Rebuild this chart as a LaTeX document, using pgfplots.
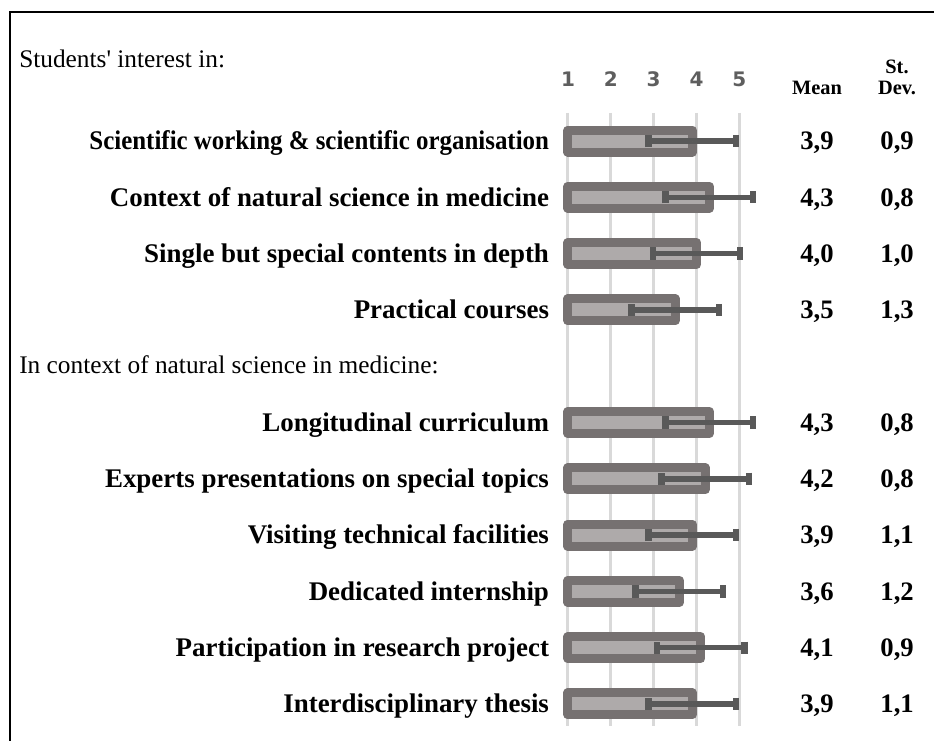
\documentclass[border=0pt]{standalone}
\usepackage{graphicx}
\usepackage{pgfplots}
\pgfplotsset{compat=1.18}
\usepackage{pgfplotstable}
\usepackage{fontspec}
\setmainfont{Liberation Serif}
\newfontfamily\tickfont{DejaVu Sans}
\definecolor{barout}{HTML}{767171}
\definecolor{barin}{HTML}{AEAAAA}
\definecolor{errc}{HTML}{595959}
\definecolor{gridc}{HTML}{D9D9D9}
\definecolor{tickc}{HTML}{5E5E5E}

\pgfplotstableread{
row mean sd
0 3.9 0.9
1 4.3 0.8
2 4.0 1.0
3 3.5 1.3
5 4.3 0.8
6 4.2 0.8
7 3.9 1.1
8 3.6 1.2
9 4.1 0.9
10 3.9 1.1
}\data

\begin{document}
\begin{tikzpicture}
\def\u{0.75pt}
\path[use as bounding box] (0,0) rectangle (934*\u,-740*\u);
\begin{axis}[
  at={(555.1*\u,-112.85*\u)}, anchor=north west,
  scale only axis, width=154.3pt, height=460.2pt,
  xmin=-0.3, xmax=4.5, ymin=-0.5, ymax=10.4, y dir=reverse,
  clip=false,
  axis line style={draw=none}, major tick length=0pt,
  xtick={0,1,2,3,4}, xticklabels={1,2,3,4,5}, xticklabel pos=upper,
  xticklabel style={font=\tickfont\bfseries\fontsize{15}{18}\selectfont, text=tickc, anchor=base, inner sep=0pt, yshift=19.5pt},
  xmajorgrids, grid style={draw=gridc, line width=2.2pt},
  ytick={0,1,2,3,5,6,7,8,9,10},
  yticklabels={\scalebox{0.925}[1]{Scientific working \& scientific organisation},
    Context of natural science in medicine,
    Single but special contents in depth,
    Practical courses,
    Longitudinal curriculum,
    Experts presentations on special topics,
    Visiting technical facilities,
    Dedicated internship,
    Participation in research project,
    Interdisciplinary thesis},
  yticklabel style={font=\bfseries\fontsize{20.2}{24}\selectfont, anchor=base east, inner sep=0pt, xshift=-4.4pt, yshift=-6.6pt},
]
\addplot[xbar, bar width=16.5pt, bar shift=0pt, fill=barin, draw=barout, line width=6.75pt, line join=round,
  error bars/.cd, x dir=both, x fixed=1.02, error mark=|,
  error bar style={line width=4.2pt, draw=errc},
  error mark options={line width=4.8pt, mark size=4.6pt, draw=errc}]
  table[x expr=\thisrow{mean}-1, y=row] {\data};

\addplot[draw=none, mark=none, point meta={\thisrow{mean}},
  nodes near coords={\pgfmathprintnumber[fixed,fixed zerofill,precision=1,use comma,assume math mode=true]{\pgfplotspointmeta}},
  nodes near coords style={anchor=base, inner sep=0pt, yshift=-6.6pt, font=\bfseries\fontsize{20}{24}\selectfont, text=black}]
  table[x expr=5.81, y=row] {\data};

\addplot[draw=none, mark=none, point meta={\thisrow{sd}},
  nodes near coords={\pgfmathprintnumber[fixed,fixed zerofill,precision=1,use comma,assume math mode=true]{\pgfplotspointmeta}},
  nodes near coords style={anchor=base, inner sep=0pt, yshift=-6.6pt, font=\bfseries\fontsize{20}{24}\selectfont, text=black}]
  table[x expr=7.68, y=row] {\data};
\end{axis}

\draw[line width=2pt, black] (10*\u,-745*\u) -- (10*\u,-12*\u) -- (940*\u,-12*\u);
\node[anchor=base, inner sep=0pt, font=\bfseries\fontsize{15.3}{18}\selectfont] at (817*\u,-94*\u) {Mean};
\node[anchor=base, inner sep=0pt, font=\bfseries\fontsize{15.3}{18}\selectfont] at (897*\u,-73*\u) {St.};
\node[anchor=base, inner sep=0pt, font=\bfseries\fontsize{15.3}{18}\selectfont] at (897*\u,-94*\u) {Dev.};
\node[anchor=base west, inner sep=0pt, font=\fontsize{19}{22}\selectfont] at (19*\u,-67*\u) {Students\textquotesingle{} interest in:};
\node[anchor=base west, inner sep=0pt, font=\fontsize{19}{22}\selectfont] at (19*\u,-373*\u) {In context of natural science in medicine:};
\end{tikzpicture}
\end{document}
